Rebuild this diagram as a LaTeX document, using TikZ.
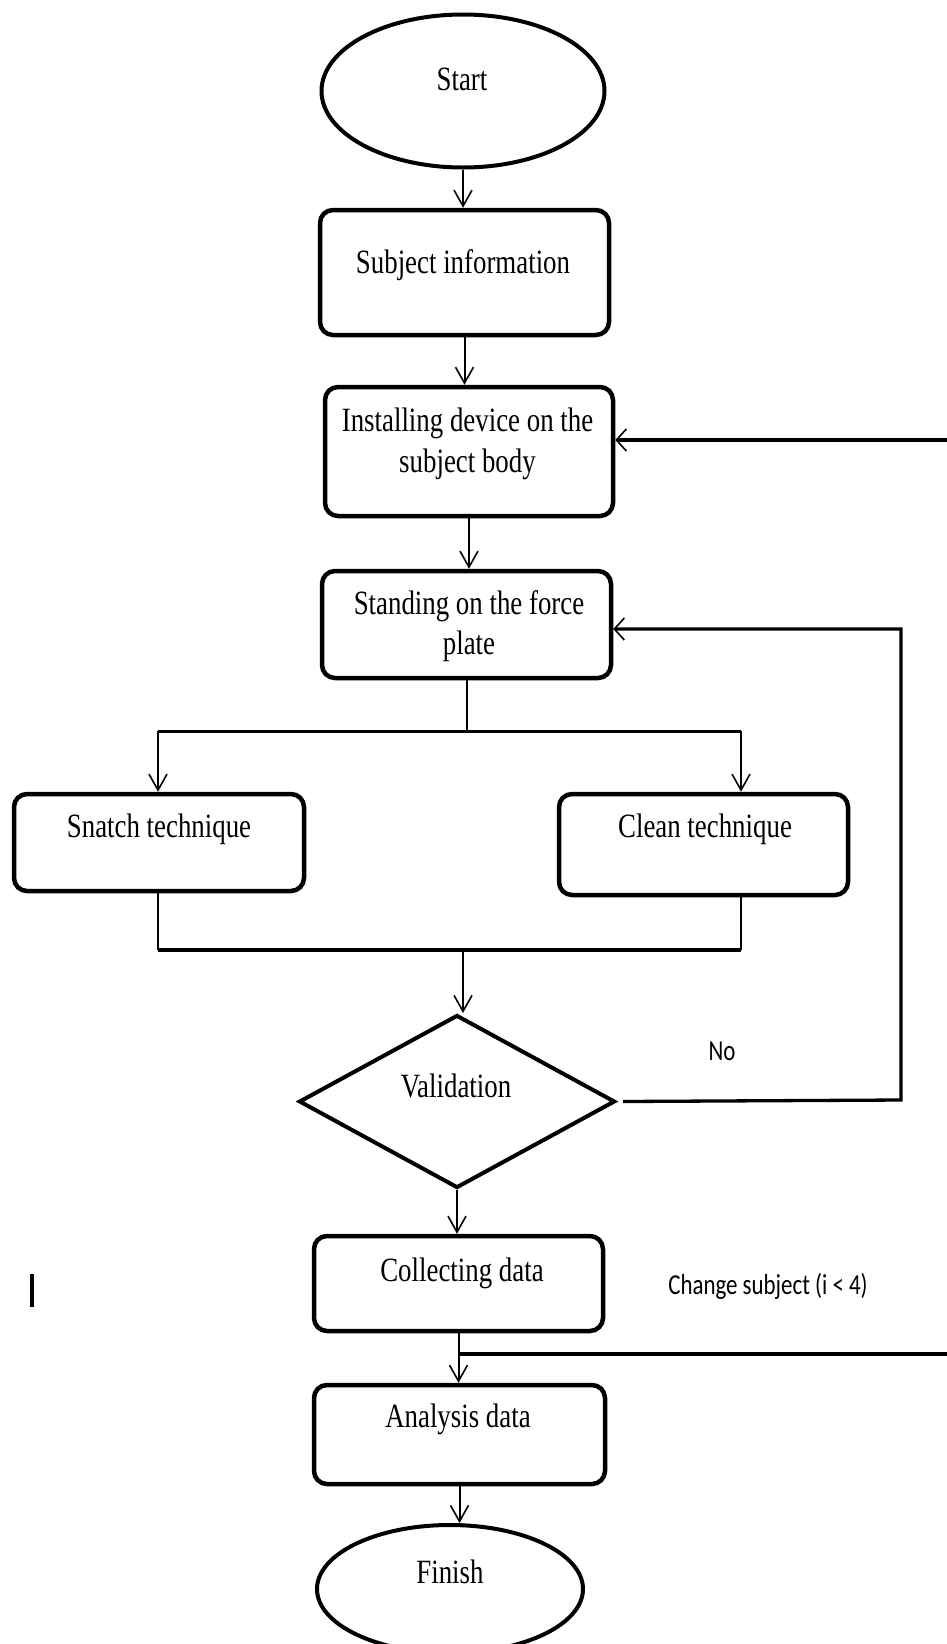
\documentclass[tikz,border=0pt]{standalone}
\usepackage{fontspec}
\setmainfont{Liberation Serif}
\newfontfamily\lblfont{Carlito}
\usetikzlibrary{shapes.geometric,arrows.meta,calc}
\newcommand{\sx}[1]{\scalebox{0.79}[1]{#1}}
\begin{document}
\begin{tikzpicture}[x=1pt,y=-1pt,
  box/.style={draw,line width=4.5pt,rounded corners=13pt,inner sep=0pt},
  term/.style={draw,ellipse,line width=4pt,inner sep=0pt},
  dec/.style={draw,diamond,line width=4pt,inner sep=0pt},
  txt/.style={anchor=base,inner sep=0pt,font=\fontsize{34}{41}\selectfont},
  lbl/.style={anchor=base,inner sep=0pt,font=\lblfont\fontsize{29}{34}\selectfont},
  conn/.style={line width=2pt},
  thinconn/.style={line width=1.5pt},
  loopline/.style={line width=3.3pt},
  arr/.style={line width=2pt,-{Straight Barb[length=16pt,width=18pt,line width=1.6pt]}},
  thinarr/.style={line width=1.5pt,-{Straight Barb[length=16pt,width=18pt,line width=1.6pt]}},
  harr/.style={line width=3.3pt,-{Straight Barb[length=10pt,width=22pt,line width=1.6pt]}}]
\useasboundingbox (0,0) rectangle (946,1644);
% shapes
\node[term,minimum width=283,minimum height=153] (start) at (463,91) {};
\node[box,minimum width=289,minimum height=125] (subj) at (464.5,272.5) {};
\node[box,minimum width=288,minimum height=129] (inst) at (469,451.5) {};
\node[box,minimum width=289,minimum height=107] (stand) at (466.5,624.5) {};
\node[box,minimum width=290,minimum height=97] (snatch) at (159,842.5) {};
\node[box,minimum width=289,minimum height=101] (clean) at (703.5,844.5) {};
\node[dec,minimum width=316,minimum height=173] (valid) at (457,1101.5) {};
\node[box,minimum width=289,minimum height=95] (coll) at (458.5,1283.5) {};
\node[box,minimum width=291,minimum height=99] (ana) at (459.5,1434.5) {};
\node[term,minimum width=266,minimum height=128] (fin) at (450,1589) {};
% texts
\node[txt] (startT) at (462,90) {\sx{Start}};
\node[txt] (subjT) at (463,273) {\sx{Subject information}};
\node[txt] (instT1) at (467.5,431) {\sx{Installing device on the}};
\node[txt] (instT2) at (467.5,472) {\sx{subject body}};
\node[txt] (standT1) at (469,614) {\sx{Standing on the force}};
\node[txt] (standT2) at (469,654) {\sx{plate}};
\node[txt] (snatchT) at (159,837) {\sx{Snatch technique}};
\node[txt] (cleanT) at (705,837) {\sx{Clean technique}};
\node[txt] (validT) at (456,1097) {\sx{Validation}};
\node[txt] (collT) at (462,1281) {\sx{Collecting data}};
\node[txt] (anaT) at (458,1427) {\sx{Analysis data}};
\node[txt] (finT) at (450,1583) {\sx{Finish}};
\node[lbl] (noT) at (722,1060) {\sx{No}};
\node[lbl] (chgT) at (768,1294) {\sx{Change subject (i < 4)}};
% coordinates
\coordinate (forkL) at (158,731);
\coordinate (forkR) at (741,731);
\coordinate (mergeL) at (158,950);
\coordinate (mergeR) at (741,950);
\coordinate (mergeC) at (463,950);
\coordinate (noR1) at (901,1100);
\coordinate (noR2) at (901,629);
\coordinate (chgR) at (950,1354);
\coordinate (chgIn) at (950,440);
% connectors
\draw[arr] (start.south) -- (start.south |- subj.north);
\draw[arr] (subj.south) -- (subj.south |- inst.north);
\draw[arr] (inst.south) -- (inst.south |- stand.north);
\draw[conn] (stand.south) -- (stand.south |- forkL);
\draw[line width=3pt] (forkL) -- (forkR);
\draw[thinarr] (forkL) -- (forkL |- snatch.north);
\draw[thinarr] (forkR) -- (forkR |- clean.north);
\draw[thinconn] (snatch.south -| mergeL) -- (mergeL);
\draw[thinconn] (clean.south -| mergeR) -- (mergeR);
\draw[loopline] (mergeL) -- (mergeR);
\draw[arr] (mergeC) -- (mergeC |- valid.north);
\draw[harr] ([xshift=6pt]valid.east) -- (noR1) -- (noR2) -- (noR2 -| stand.east);
\draw[arr] (valid.south) -- (valid.south |- coll.north);
\draw[arr] (coll.south) -- (coll.south |- ana.north);
\draw[loopline] (coll.south |- chgR) -- (chgR);
\draw[harr] (chgIn) -- (chgIn -| inst.east);
\draw[arr] (ana.south) -- (ana.south |- fin.north);
% stray cursor mark
\draw[line width=3.5pt] (32,1274) -- (32,1307);
\end{tikzpicture}
\end{document}
